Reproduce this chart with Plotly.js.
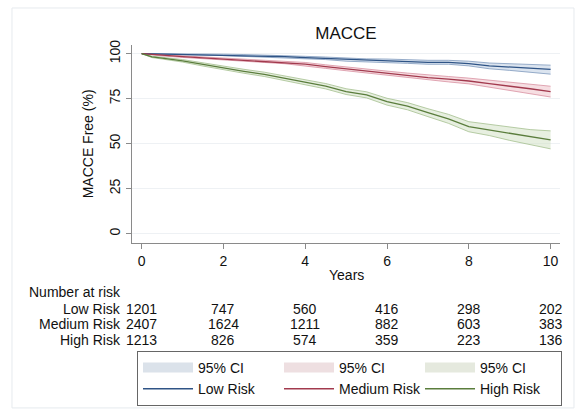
<!DOCTYPE html>
<html>
<head>
<meta charset="utf-8">
<script src="https://cdn.plot.ly/plotly-3.0.1.min.js"></script>
<style>html,body{margin:0;padding:0;background:#fff;}#chart{width:583px;height:410px;}</style>
</head>
<body>
<div id="chart"></div>
<script>
// Time points (years)
var years = [0, 0.25, 0.5, 1, 1.5, 2, 2.5, 3, 3.5, 4, 4.5, 5, 5.5, 6, 6.5, 7, 7.5, 8, 8.5, 9, 9.5, 10];

// Survival estimates (MACCE free, %)
var lowRisk    = [100, 99.9, 99.8, 99.6, 99.5, 99.3, 99.0, 98.8, 98.3, 97.8, 97.4, 96.6, 96.3, 96.1, 95.6, 95.2, 95.2, 94.5, 93.2, 92.6, 92.0, 91.3];
var lowLower   = [100, 99.8, 99.65, 99.4, 99.2, 98.9, 98.5, 98.3, 97.7, 97.1, 96.7, 95.8, 95.5, 95.2, 94.6, 94.1, 94.1, 93.2, 91.6, 90.7, 89.8, 88.6];
var lowUpper   = [100, 100, 99.95, 99.8, 99.8, 99.7, 99.5, 99.3, 98.9, 98.5, 98.1, 97.4, 97.1, 97.0, 96.6, 96.3, 96.3, 95.8, 94.8, 94.5, 94.2, 93.6];

var medRisk    = [100, 99.5, 99.0, 98.3, 97.6, 96.9, 96.4, 95.8, 95.2, 94.2, 92.8, 91.5, 90.3, 89.1, 87.9, 86.7, 85.8, 84.8, 83.3, 82.0, 80.5, 78.9];
var medLower   = [100, 99.3, 98.7, 97.9, 97.1, 96.3, 95.7, 95.1, 94.4, 93.3, 91.8, 90.5, 89.2, 87.9, 86.6, 85.3, 84.3, 83.2, 81.4, 79.8, 77.9, 75.9];
var medUpper   = [100, 99.7, 99.3, 98.7, 98.1, 97.5, 97.1, 96.5, 96.0, 95.1, 93.8, 92.5, 91.4, 90.3, 89.2, 88.1, 87.3, 86.4, 85.2, 84.2, 83.1, 81.9];

var highRisk   = [100, 98.2, 97.5, 96.0, 94.0, 91.9, 90.2, 88.5, 86.2, 84.1, 81.9, 78.9, 77.1, 73.3, 70.8, 67.2, 63.8, 59.4, 57.6, 55.4, 53.6, 52.1];
var highLower  = [100, 97.8, 97.0, 95.3, 93.1, 90.9, 89.1, 87.3, 84.9, 82.7, 80.4, 77.3, 75.4, 71.4, 68.8, 65.0, 61.3, 56.6, 54.5, 51.8, 49.4, 47.1];
var highUpper  = [100, 98.6, 98.0, 96.7, 94.9, 92.9, 91.3, 89.7, 87.5, 85.5, 83.4, 80.5, 78.8, 75.2, 72.8, 69.4, 66.3, 62.2, 60.7, 59.0, 57.8, 57.1];

// Number at risk table
var riskYears  = [0, 2, 4, 6, 8, 10];
var riskLabels = ["Low Risk", "Medium Risk", "High Risk"];
var atRiskLow  = [1201, 747, 560, 416, 298, 202];
var atRiskMed  = [2407, 1624, 1211, 882, 603, 383];
var atRiskHigh = [1213, 826, 574, 359, 223, 136];

var xTicks = [0, 2, 4, 6, 8, 10];
var yTicks = [0, 25, 50, 75, 100];

var FONT = "Liberation Sans, Arial, sans-serif";

var groups = [
  {name: "Low Risk", y: lowRisk, lo: lowLower, hi: lowUpper, line: "#2f5486", fill: "rgba(190,205,225,0.55)", edge: "rgba(120,148,185,0.75)", swatch: "#dbe2ea"},
  {name: "Medium Risk", y: medRisk, lo: medLower, hi: medUpper, line: "#a23a4e", fill: "rgba(238,195,202,0.55)", edge: "rgba(215,140,158,0.75)", swatch: "#eedfe1"},
  {name: "High Risk", y: highRisk, lo: highLower, hi: highUpper, line: "#5a7d3c", fill: "rgba(212,226,198,0.55)", edge: "rgba(160,188,138,0.75)", swatch: "#e5e9de"}
];

var traces = [];
// CI bands
groups.forEach(function (g) {
  traces.push({x: years, y: g.hi, mode: "lines", line: {color: g.edge, width: 1}, showlegend: false, hoverinfo: "skip"});
  traces.push({x: years, y: g.lo, mode: "lines", line: {color: g.edge, width: 1}, fill: "tonexty", fillcolor: g.fill, showlegend: false, hoverinfo: "skip"});
});
// Survival lines
groups.forEach(function (g) {
  traces.push({x: years, y: g.y, mode: "lines", line: {color: g.line, width: 1.3}, showlegend: false});
});
// Legend entries: CI swatches first row, lines second row
groups.forEach(function (g) {
  traces.push({x: [null], y: [null], mode: "lines", line: {color: g.swatch, width: 13}, name: "95% CI", showlegend: true, hoverinfo: "skip"});
});
groups.forEach(function (g) {
  traces.push({x: [null], y: [null], mode: "lines", line: {color: g.line, width: 1.3}, name: g.name, showlegend: true, hoverinfo: "skip"});
});

var TF = {size: 14, color: "#111"};
var annotations = [];
annotations.push({xref: "paper", yref: "paper", x: 0.5, y: -0.162, text: "Years", showarrow: false, xanchor: "center", yanchor: "middle", font: TF});
annotations.push({xref: "paper", yref: "paper", x: -0.102, y: 0.5, text: "MACCE Free (%)", textangle: -90, showarrow: false, xanchor: "center", yanchor: "middle", font: TF});
annotations.push({xref: "paper", yref: "paper", x: -0.245, y: -0.247, text: "Number at risk", showarrow: false, xanchor: "left", yanchor: "middle", font: TF});
var rowY = [-0.333, -0.411, -0.492];
var rowData = [atRiskLow, atRiskMed, atRiskHigh];
riskLabels.forEach(function (lab, i) {
  annotations.push({xref: "paper", yref: "paper", x: -0.024, y: rowY[i], text: lab, showarrow: false, xanchor: "right", yanchor: "middle", borderpad: 0, font: TF});
  riskYears.forEach(function (t, j) {
    annotations.push({xref: "x", yref: "paper", x: t, y: rowY[i], text: String(rowData[i][j]), showarrow: false, xanchor: "center", yanchor: "middle", borderpad: 0, font: TF});
  });
});

var layout = {
  width: 583, height: 410,
  margin: {l: 132, r: 23, t: 45, b: 167},
  paper_bgcolor: "#ffffff", plot_bgcolor: "#ffffff",
  font: {family: FONT, size: 14, color: "#111"},
  title: {text: "MACCE", x: 0.5, xref: "paper", xanchor: "center", y: 0.92, yref: "container", yanchor: "middle", font: {family: FONT, size: 17, color: "#111"}},
  xaxis: {
    range: [-0.237, 10.23], tickvals: xTicks, ticktext: xTicks.map(String),
    showgrid: false, zeroline: false, showline: true, linecolor: "#8a8a8a", linewidth: 1.3,
    ticks: "outside", ticklen: 5, tickcolor: "#8a8a8a", tickfont: {size: 14, color: "#111"}
  },
  yaxis: {
    range: [-5.2, 104.8], tickvals: yTicks, ticktext: yTicks.map(String), tickangle: -90,
    showgrid: true, gridcolor: "#eef1f4", gridwidth: 1, zeroline: false,
    showline: true, linecolor: "#8a8a8a", linewidth: 1.3,
    ticks: "outside", ticklen: 5, tickcolor: "#8a8a8a", tickfont: {size: 14, color: "#111"}
  },
  legend: {
    orientation: "h", xref: "container", yref: "container",
    x: 0.235, xanchor: "left", y: 0.144, yanchor: "top",
    bordercolor: "#666", borderwidth: 1, bgcolor: "#fff",
    entrywidth: 76, entrywidthmode: "pixels", itemwidth: 50,
    font: {size: 14, color: "#111"}, traceorder: "normal"
  },
  shapes: [
    {type: "rect", xref: "paper", yref: "paper", x0: -0.2804, x1: 1.0327, y0: -0.833, y1: 1.187, line: {color: "#e6eaee", width: 1}, fillcolor: "rgba(0,0,0,0)", layer: "below"}
  ],
  annotations: annotations,
  showlegend: true
};

Plotly.newPlot("chart", traces, layout, {displayModeBar: false, staticPlot: true});
</script>
</body>
</html>
